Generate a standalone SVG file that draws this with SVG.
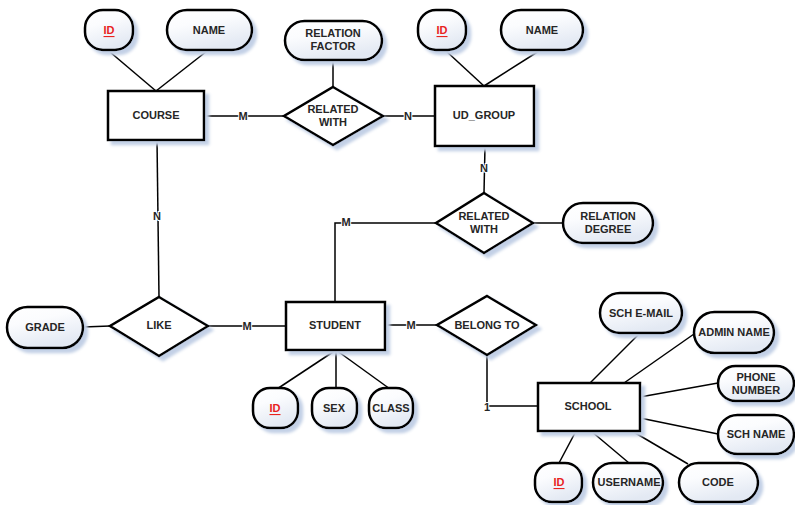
<svg xmlns="http://www.w3.org/2000/svg" width="795" height="505" viewBox="0 0 795 505">
<defs>
<linearGradient id="g" x1="0" y1="0" x2="0.4" y2="1">
<stop offset="0" stop-color="#ffffff"/>
<stop offset="0.4" stop-color="#fbfcfe"/>
<stop offset="1" stop-color="#e3e9f3"/>
</linearGradient>
<filter id="sh" x="-20%" y="-20%" width="150%" height="150%">
<feDropShadow dx="4" dy="4" stdDeviation="1.5" flood-color="#c3d0e6" flood-opacity="1"/>
</filter>
</defs>
<style>
.ent{fill:#fff;stroke:#000;stroke-width:2.5;filter:url(#sh)}
.rel{fill:#fff;stroke:#000;stroke-width:2.5;stroke-linejoin:miter;filter:url(#sh)}
.att{fill:url(#g);stroke:#000;stroke-width:2.5;filter:url(#sh)}
text{font-family:"Liberation Sans",Arial,sans-serif;font-weight:bold;font-size:11px;fill:#262626;text-anchor:middle;dominant-baseline:central}
.key{fill:#e8231e;text-decoration:underline}
.lbl{paint-order:stroke;stroke:#fff;stroke-width:2;font-size:11px}
#connectors line,#connectors polyline{stroke:#000;stroke-width:1.5;fill:none}
</style>
<rect width="795" height="505" fill="#fff"/>
<g id="connectors">
<line x1="110" y1="52" x2="156" y2="91"/>
<line x1="207" y1="51" x2="156" y2="91"/>
<line x1="204" y1="116" x2="284" y2="116"/>
<line x1="333" y1="60" x2="333" y2="87"/>
<line x1="383" y1="116" x2="435" y2="116"/>
<line x1="445" y1="50" x2="484" y2="86"/>
<line x1="539" y1="51" x2="484" y2="86"/>
<line x1="485" y1="146" x2="484" y2="193"/>
<line x1="533" y1="223" x2="563" y2="223"/>
<polyline points="436,223 335,223 335,302"/>
<line x1="157" y1="140" x2="159" y2="297"/>
<line x1="83" y1="327" x2="110" y2="326"/>
<line x1="208" y1="326" x2="286" y2="326"/>
<line x1="385" y1="325" x2="437" y2="325"/>
<line x1="336" y1="350" x2="277" y2="389"/>
<line x1="336" y1="350" x2="336" y2="389"/>
<line x1="336" y1="350" x2="390" y2="389"/>
<polyline points="487,355 487,406 538,406"/>
<line x1="639" y1="334" x2="590" y2="383"/>
<line x1="694" y1="334" x2="624" y2="383"/>
<line x1="640" y1="397" x2="718" y2="383"/>
<line x1="640" y1="418" x2="718" y2="434"/>
<line x1="576" y1="431" x2="559" y2="463"/>
<line x1="591" y1="431" x2="629" y2="463"/>
<line x1="632" y1="431" x2="688" y2="464"/>
<text class="lbl" x="243" y="116">M</text>
<text class="lbl" x="408" y="116">N</text>
<text class="lbl" x="484" y="168">N</text>
<text class="lbl" x="346" y="222">M</text>
<text class="lbl" x="157" y="216">N</text>
<text class="lbl" x="247" y="326">M</text>
<text class="lbl" x="411" y="325">M</text>
<text class="lbl" x="487" y="407">1</text>
</g>
<g id="course"><rect class="ent" x="108" y="91" width="96" height="49"/><text x="156" y="115">COURSE</text></g>
<g id="course-id"><rect class="att" x="85" y="10" width="48" height="40" rx="18"/><text class="key" x="109" y="30">ID</text></g>
<g id="course-name"><rect class="att" x="167" y="10" width="85" height="40" rx="20"/><text x="209" y="30">NAME</text></g>
<g id="related-with-1"><polygon class="rel" points="333,87 383,116 333,145 284,116"/><text x="333" y="109">RELATED</text><text x="333" y="122">WITH</text></g>
<g id="relation-factor"><rect class="att" x="285" y="21" width="97" height="39" rx="19.5"/><text x="333" y="33">RELATION</text><text x="333" y="46">FACTOR</text></g>
<g id="ud-group"><rect class="ent" x="435" y="86" width="99" height="60"/><text x="484" y="115">UD_GROUP</text></g>
<g id="ud-id"><rect class="att" x="418" y="10" width="48" height="40" rx="18"/><text class="key" x="442" y="30">ID</text></g>
<g id="ud-name"><rect class="att" x="501" y="10" width="82" height="40" rx="20"/><text x="542" y="30">NAME</text></g>
<g id="related-with-2"><polygon class="rel" points="484,193 533,223 484,253 436,223"/><text x="484" y="216">RELATED</text><text x="484" y="229">WITH</text></g>
<g id="relation-degree"><rect class="att" x="563" y="203" width="90" height="40" rx="20"/><text x="608" y="216">RELATION</text><text x="608" y="229">DEGREE</text></g>
<g id="like"><polygon class="rel" points="159,297 208,326 159,356 110,326"/><text x="159" y="325">LIKE</text></g>
<g id="grade"><rect class="att" x="7" y="307" width="76" height="41" rx="20.5"/><text x="45" y="327">GRADE</text></g>
<g id="student"><rect class="ent" x="286" y="302" width="99" height="48"/><text x="335" y="325">STUDENT</text></g>
<g id="student-id"><rect class="att" x="253" y="388" width="45" height="40" rx="17"/><text class="key" x="275" y="408">ID</text></g>
<g id="sex"><rect class="att" x="312" y="388" width="45" height="40" rx="17"/><text x="334" y="408">SEX</text></g>
<g id="class"><rect class="att" x="369" y="388" width="44" height="40" rx="17"/><text x="391" y="408">CLASS</text></g>
<g id="belong-to"><polygon class="rel" points="487,296 536,325 487,355 437,325"/><text x="487" y="325">BELONG TO</text></g>
<g id="school"><rect class="ent" x="538" y="383" width="102" height="48"/><text x="588" y="406">SCHOOL</text></g>
<g id="sch-email"><rect class="att" x="600" y="293" width="82" height="40" rx="20"/><text x="641" y="313">SCH E-MAIL</text></g>
<g id="admin-name"><rect class="att" x="694" y="312" width="80" height="41" rx="20.5"/><text x="734" y="332">ADMIN NAME</text></g>
<g id="phone-number"><rect class="att" x="718" y="366" width="76" height="35" rx="17.5"/><text x="756" y="377">PHONE</text><text x="756" y="390">NUMBER</text></g>
<g id="sch-name"><rect class="att" x="718" y="415" width="76" height="39" rx="19.5"/><text x="756" y="434">SCH NAME</text></g>
<g id="school-id"><rect class="att" x="535" y="463" width="47" height="39" rx="17"/><text class="key" x="559" y="482">ID</text></g>
<g id="username"><rect class="att" x="593" y="463" width="70" height="39" rx="19.5"/><text x="629" y="482">USERNAME</text></g>
<g id="code"><rect class="att" x="679" y="463" width="79" height="39" rx="19.5"/><text x="718" y="482">CODE</text></g>
</svg>
